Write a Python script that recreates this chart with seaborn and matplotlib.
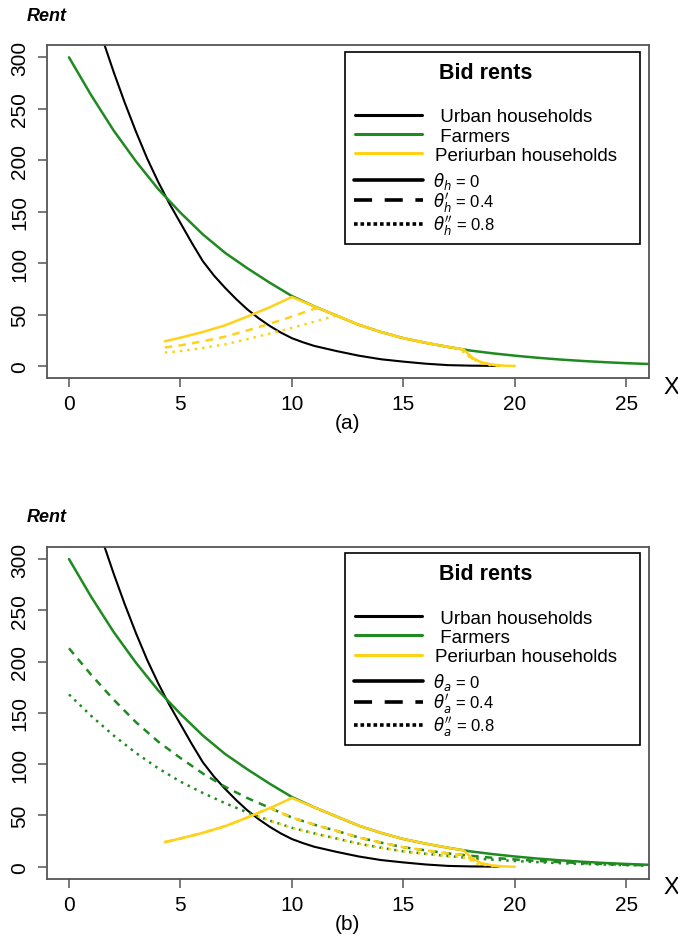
import numpy as np
import pandas as pd
import matplotlib
matplotlib.use("Agg")
import matplotlib.pyplot as plt
from matplotlib.lines import Line2D
from matplotlib.patches import Rectangle
from matplotlib import font_manager
import seaborn as sns

# ---- data (distance X, rent) ----
x_urban = [1.5, 2, 2.5, 3, 3.5, 4, 4.5, 5, 5.5, 6, 6.5, 7, 7.5, 8, 8.5, 9, 9.5, 10, 10.5, 11,
           11.5, 12, 13, 14, 15, 16, 17, 18, 19, 19.3]
rent_urban = [318, 286, 256, 228, 202, 179, 158, 139, 120, 102, 88, 76, 65, 55, 46.5, 39, 32.5,
              27, 23, 19.5, 17, 14.5, 10, 6.5, 4.2, 2.2, 0.8, 0.3, 0.1, 0]

x_farm = list(range(27))
rent_farm = [300, 263, 229, 199, 172, 149, 128, 110, 95, 81, 68, 58, 49, 40, 33, 27, 22.5,
             18.5, 15, 12.3, 10, 8, 6.3, 4.9, 3.7, 2.7, 1.9]
# panel (b): farmers with theta_a' = 0.4 and theta_a'' = 0.8
rent_farm_04 = [213, 187, 163, 141, 122, 106, 91, 78, 67, 57.5, 48, 41, 35, 28.5, 23.5, 19, 16,
                13, 10.7, 8.7, 7.1, 5.7, 4.5, 3.5, 2.6, 1.9, 1.3]
rent_farm_08 = [168, 147, 128, 111, 96, 83, 72, 62, 53, 45, 38, 32.5, 27.5, 22.5, 18.5, 15, 12.6,
                10.4, 8.4, 6.9, 5.6, 4.5, 3.5, 2.7, 2.1, 1.5, 1.1]

# periurban households, panel (a)
x_peri_a0 = [4.3, 5, 6, 7, 8, 9, 10, 11, 12, 13, 14, 15, 16, 17, 17.7, 18.1, 18.5, 19, 19.5, 20]
rent_peri_a0 = [24, 27.5, 33, 39.5, 48, 57, 67, 58, 49, 40, 33, 27, 22.5, 18.5, 16, 8, 3.5, 1.2, 0.3, 0]
x_peri_a4 = [4.3, 5, 6, 7, 8, 9, 10, 11, 11.2, 12, 13, 14, 15, 16, 17, 17.6, 18.1, 18.6, 19.2, 19.6]
rent_peri_a4 = [18, 20, 24, 28.5, 34.5, 41, 48, 55.5, 56, 49, 40, 33, 27, 22.5, 18.5, 16.5, 7, 2.5, 0.5, 0]
x_peri_a8 = [4.3, 5, 6, 7, 8, 9, 10, 11, 12, 13, 14, 15, 16, 17, 17.5, 18, 18.5, 19, 19.5]
rent_peri_a8 = [13, 14.5, 17.5, 21, 26, 31.5, 37, 43, 49, 40, 33, 27, 22.5, 18.5, 17, 8, 2.5, 0.5, 0]

# periurban households, panel (b)
x_peri_b0 = x_peri_a0
rent_peri_b0 = rent_peri_a0
x_peri_b4 = [4.3, 5, 6, 7, 8, 9, 10, 11, 12, 13, 14, 15, 16, 17, 17.8, 18.3, 19, 19.5]
rent_peri_b4 = [24, 27.5, 33, 39.5, 48, 57.5, 48, 41, 35, 28.5, 23.5, 19, 16, 13, 11.2, 4, 1, 0]
x_peri_b8 = [4.3, 5, 6, 7, 8, 8.3, 9, 10, 11, 12, 13, 14, 15, 16, 17, 17.8, 18.3, 19, 19.5]
rent_peri_b8 = [24, 27.5, 33, 39.5, 48, 51, 45, 38, 32.5, 27.5, 22.5, 18.5, 15, 12.6, 10.4, 8.7, 3, 0.5, 0]

group_labels = [" Urban households", " Farmers", "Periurban households"]
theta_vals = ["0", "0.4", "0.8"]
x_ticks = [0, 5, 10, 15, 20, 25]
y_ticks = [0, 50, 100, 150, 200, 250, 300]

BLACK = "black"
GREEN = "#1f8a1f"
GOLD = "#ffd21a"
DASH = (0, (3, 2.5))
DOT = (0, (1, 2))

sns.set_style("ticks")
names = {f.name for f in font_manager.fontManager.ttflist}
narrow = "Liberation Sans Narrow" if "Liberation Sans Narrow" in names else "Liberation Sans"
plt.rcParams["font.family"] = ["Liberation Sans", "DejaVu Sans"]
plt.rcParams["text.color"] = "black"
plt.rcParams["axes.labelcolor"] = "black"
plt.rcParams["xtick.labelcolor"] = "black"
plt.rcParams["ytick.labelcolor"] = "black"


def line(ax, x, y, color, lw, ls="-", z=2):
    sns.lineplot(x=x, y=y, ax=ax, color=color, lw=lw, linestyle=ls,
                 sort=False, estimator=None, zorder=z)


def panel(ax, sub, tag, peri, farm_extra):
    line(ax, x_urban, rent_urban, BLACK, 1.5)
    line(ax, x_farm, rent_farm, GREEN, 1.8)
    for ys, ls in farm_extra:
        line(ax, x_farm, ys, GREEN, 1.8, ls)
    for (xs, ys), ls in zip(peri, ["-", DASH, DOT]):
        line(ax, xs, ys, GOLD, 1.8, ls, z=3)

    ax.set_xlim(-1, 26)
    ax.set_ylim(-12, 312)
    ax.set_xticks(x_ticks)
    ax.set_yticks(y_ticks)
    ax.set_xticklabels([str(v) for v in x_ticks], fontfamily=narrow, fontsize=15)
    ax.set_yticklabels([str(v) for v in y_ticks], fontfamily=narrow, fontsize=15,
                       rotation=90, va="center")
    ax.tick_params(direction="out", length=6.5, width=1.1, color="#555555",
                   labelcolor="black")
    ax.tick_params(axis="x", pad=5)
    ax.tick_params(axis="y", pad=6)
    for s in ax.spines.values():
        s.set_visible(True)
        s.set_color("#555555")
        s.set_linewidth(1.3)
    ax.set_xlabel(tag, fontfamily=narrow, fontsize=15, labelpad=0, color="black")
    ax.set_ylabel("")

    ax.add_patch(Rectangle((0.496, 0.403), 0.490, 0.577, transform=ax.transAxes,
                           facecolor="white", edgecolor="black", lw=1.2, zorder=4))
    ax.text(0.730, 0.919, "Bid rents", transform=ax.transAxes, ha="center", va="center",
            fontsize=15.5, fontweight="bold", zorder=6)

    h1 = [Line2D([], [], color=c, lw=2.2) for c in (BLACK, GREEN, GOLD)]
    leg1 = ax.legend(h1, group_labels, loc="center left", bbox_to_anchor=(0.512, 0.727),
                     frameon=False, fontsize=13.5, handlelength=3.6, handletextpad=0.7,
                     labelspacing=0.12, borderpad=0, borderaxespad=0)
    ax.add_artist(leg1)
    h2 = [Line2D([], [], color=BLACK, lw=2.6, linestyle=ls)
          for ls in ("-", (0, (5, 3.5)), (0, (1, 0.8)))]
    l2 = [r"$\theta_%s$ = %s" % (sub, theta_vals[0]),
          r"$\theta_%s'$ = %s" % (sub, theta_vals[1]),
          r"$\theta_%s''$ = %s" % (sub, theta_vals[2])]
    leg2 = ax.legend(h2, l2, loc="center left", bbox_to_anchor=(0.511, 0.525),
                     frameon=False, fontsize=12, handlelength=4.1, handletextpad=0.6,
                     labelspacing=-0.05, borderpad=0, borderaxespad=0)
    leg1.set_zorder(6)
    leg2.set_zorder(6)


fig = plt.figure(figsize=(6.78, 9.37), dpi=100)
ax_a = fig.add_axes([0.0689, 0.5952, 0.8876, 0.3557])
ax_b = fig.add_axes([0.0689, 0.0608, 0.8876, 0.3546])

panel(ax_a, "h", "(a)",
      [(x_peri_a0, rent_peri_a0), (x_peri_a4, rent_peri_a4), (x_peri_a8, rent_peri_a8)], [])
panel(ax_b, "a", "(b)",
      [(x_peri_b0, rent_peri_b0), (x_peri_b4, rent_peri_b4), (x_peri_b8, rent_peri_b8)],
      [(rent_farm_04, DASH), (rent_farm_08, DOT)])

for ytop, yx in ((16.5, 388), (517.5, 888)):
    fig.text(27 / 678, 1 - ytop / 937, "Rent", ha="left", va="center", fontsize=13,
             fontweight="bold", fontstyle="italic")
    fig.text(671 / 678, 1 - yx / 937, "X", ha="center", va="center", fontsize=17,
             fontfamily=narrow)

fig.savefig("out.png", dpi=100)
